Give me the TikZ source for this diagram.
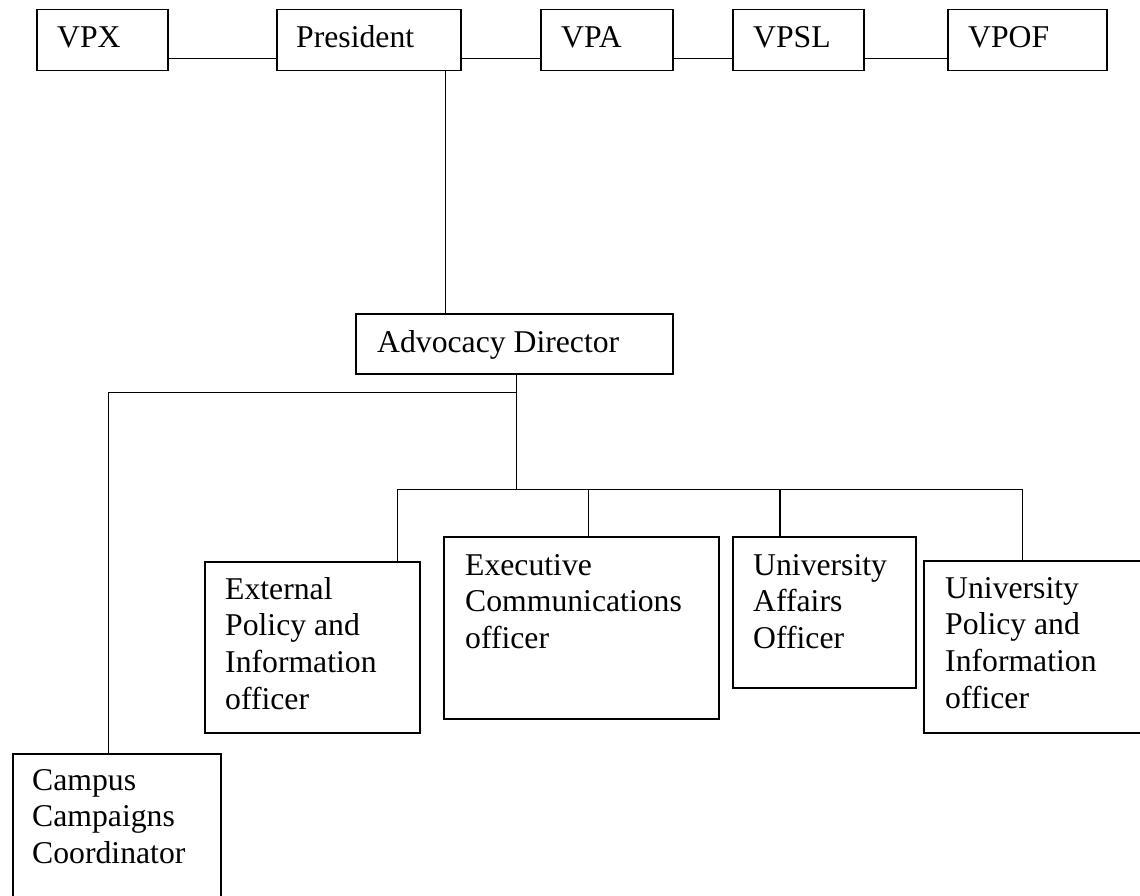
\documentclass[tikz,border=0pt]{standalone}
\usepackage{fontspec}
\setmainfont{Liberation Serif}
\usetikzlibrary{calc}
\begin{document}
\begin{tikzpicture}[x=1pt,y=-1pt,
  box/.style={draw, line width=1.5pt, inner sep=0pt, anchor=north west},
  lbl/.style={anchor=base west, inner sep=0pt, font=\fontsize{31.7}{36.7}\selectfont},
  wire/.style={line width=1.3pt}]
\clip (0,0) rectangle (1140,896);
\fill[white] (0,0) rectangle (1140,896);
% top row
\node[box, minimum width=131pt, minimum height=61pt] (vpx)  at (36,9) {};
\node[box, minimum width=184pt, minimum height=61pt] (pres) at (276,9) {};
\node[box, minimum width=132pt, minimum height=61pt] (vpa)  at (540,9) {};
\node[box, minimum width=131pt, minimum height=61pt] (vpsl) at (732,9) {};
\node[box, minimum width=159pt, minimum height=61pt] (vpof) at (947,9) {};
\node[lbl] (vpxT)  at ($(vpx.north west)+(21,39)$) {VPX};
\node[lbl] (presT) at ($(pres.north west)+(20,39)$) {President};
\node[lbl] (vpaT)  at ($(vpa.north west)+(21,39)$) {VPA};
\node[lbl] (vpslT) at ($(vpsl.north west)+(21,39)$) {VPSL};
\node[lbl] (vpofT) at ($(vpof.north west)+(21,39)$) {VPOF};
\draw[wire] ([yshift=13pt]vpx.south east) -- ([yshift=13pt]pres.south west);
\draw[wire] ([yshift=13pt]pres.south east) -- ([yshift=13pt]vpa.south west);
\draw[wire] ([yshift=13pt]vpa.south east) -- ([yshift=13pt]vpsl.south west);
\draw[wire] ([yshift=13pt]vpsl.south east) -- ([yshift=13pt]vpof.south west);
% advocacy director
\node[box, minimum width=317pt, minimum height=60pt] (adv) at (355,313) {};
\node[lbl] (advT) at ($(adv.north west)+(22,39)$) {Advocacy Director};
\draw[wire] ([xshift=-16pt]pres.south east) -- ([xshift=-16pt]pres.south east |- adv.north);
% children
\node[box, minimum width=215pt, minimum height=171pt] (ext) at (204,561) {};
\node[box, minimum width=275pt, minimum height=182pt] (exec) at (443,536) {};
\node[box, minimum width=183pt, minimum height=151pt] (ua) at (732,536) {};
\node[box, minimum width=220pt, minimum height=172pt] (up) at (923,560) {};
\node[box, minimum width=208pt, minimum height=150pt] (camp) at (12,753) {};
\node[lbl] (extT) at ($(ext.north west)+(21,38)$) {\parbox[t]{250pt}{\raggedright External\\Policy and\\Information\\officer}};
\node[lbl] (execT) at ($(exec.north west)+(22,39)$) {\parbox[t]{250pt}{\raggedright Executive\\Communications\\officer}};
\node[lbl] (uaT) at ($(ua.north west)+(21,39)$) {\parbox[t]{250pt}{\raggedright University\\Affairs\\Officer}};
\node[lbl] (upT) at ($(up.north west)+(22,38)$) {\parbox[t]{250pt}{\raggedright University\\Policy and\\Information\\officer}};
\node[lbl] (campT) at ($(camp.north west)+(20,37)$) {\parbox[t]{250pt}{\raggedright Campus\\Campaigns\\Coordinator}};
% connectors
\coordinate (hub) at ($(adv.south)+(2.5,115)$);
\coordinate (lhub) at ($(adv.south)+(2.5,18)$);
\draw[wire] ([xshift=2.5pt]adv.south) -- (hub);
\draw[wire] (lhub) -| ([xshift=-8pt]camp.north);
\draw[wire] (hub) -| ([xshift=-23pt]ext.north east);
\draw[wire] (hub) -| ([xshift=-11.5pt]up.north);
\draw[wire] ([xshift=7.5pt]exec.north) -- ([xshift=7.5pt]exec.north |- hub);
\draw[wire] ([xshift=48pt]ua.north west) -- ([xshift=48pt]ua.north west |- hub);
\end{tikzpicture}
\end{document}
